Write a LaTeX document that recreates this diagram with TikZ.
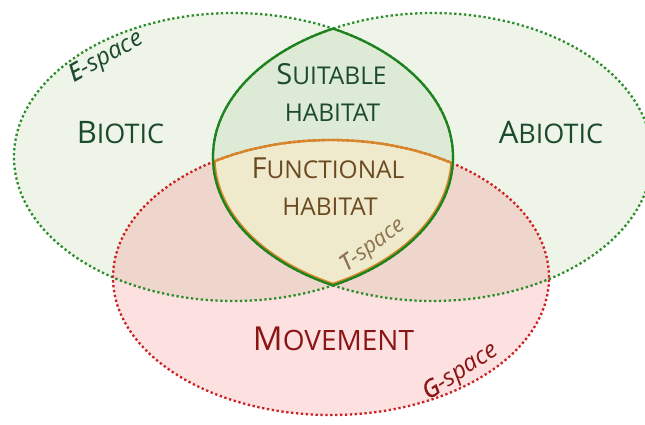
\documentclass[tikz,border=0pt]{standalone}
\usepackage{fontspec}
\setmainfont{Open Sans}
\begin{document}
\begin{tikzpicture}[x=1pt,y=-1pt]
\definecolor{gone}{HTML}{EEF5E8}
\definecolor{gtwo}{HTML}{DDEAD5}
\definecolor{rone}{HTML}{FDE0E0}
\definecolor{rg}{HTML}{EFD6CC}
\definecolor{func}{HTML}{F0EACC}
\definecolor{gdot}{HTML}{2A8C2A}
\definecolor{gline}{HTML}{1E821E}
\definecolor{rdot}{HTML}{CC2020}
\definecolor{orng}{HTML}{D8862A}
\definecolor{gtxt}{HTML}{1B4A2E}
\definecolor{btxt}{HTML}{6B4A22}
\definecolor{ttxt}{HTML}{8C7350}
\definecolor{rtxt}{HTML}{8B1414}
\tikzset{
  dotline/.style={line width=2.3pt, dash pattern=on 2.3pt off 2.6pt},
  lbl/.style={anchor=base, inner sep=0pt},
  slant/.style={anchor=base, inner sep=0pt},
}
\newcommand\scbig[2]{{\fontsize{31}{36}\selectfont #1}{\fontsize{27}{32}\selectfont #2}}
\newcommand\scmid[2]{{\fontsize{29}{34}\selectfont #1}{\fontsize{24.5}{29}\selectfont #2}}
\newcommand\scmove[2]{{\fontsize{33}{38}\selectfont #1}{\fontsize{28}{33}\selectfont #2}}
\newcommand\semib[1]{{\addfontfeature{FakeBold=1.3}#1}}
\def\ellL{(233.5,157) ellipse [x radius=219.5pt, y radius=144pt]}
\def\ellR{(432.5,157) ellipse [x radius=219.5pt, y radius=144pt]}
\def\ellM{(331,277.5) ellipse [x radius=218pt, y radius=137.5pt]}
\useasboundingbox (0,0) rectangle (645,425);
\fill[white] (0,0) rectangle (645,425);
% fills
\fill[gone] \ellL;
\fill[gone] \ellR;
\begin{scope}
  \clip \ellL;
  \fill[gtwo] \ellR;
\end{scope}
\fill[rone] \ellM;
\begin{scope}
  \clip \ellM;
  \fill[rg] \ellL;
  \fill[rg] \ellR;
  \clip \ellL;
  \fill[func] \ellR;
\end{scope}
% dotted outlines
\draw[dotline, gdot] \ellL;
\draw[dotline, gdot] \ellR;
\draw[dotline, rdot] \ellM;
% functional outline
\begin{scope}
  \clip \ellL;
  \clip \ellR;
  \draw[orng, line width=2.4pt] \ellM;
  \clip \ellM;
  \draw[orng, line width=5.2pt] \ellL;
  \draw[orng, line width=5.2pt] \ellR;
\end{scope}
% lens outline
\begin{scope}
  \clip \ellL;
  \draw[gline, line width=2.3pt] \ellR;
\end{scope}
\begin{scope}
  \clip \ellR;
  \draw[gline, line width=2.3pt] \ellL;
\end{scope}
% labels
\node[lbl, text=gtxt] (biotic) at (120.5,143.5) {\scbig{B}{IOTIC}};
\node[lbl, text=gtxt] (abiotic) at (551,143.5) {\scbig{A}{BIOTIC}};
\node[lbl, text=gtxt] (suit) at (331.5,85) {\scmid{S}{UITABLE}};
\node[lbl, text=gtxt, font=\fontsize{24.5}{29}\selectfont] (suith) at (332.5,121.5) {HABITAT};
\node[lbl, text=btxt] (func) at (328,178) {\scmid{F}{UNCTIONAL}};
\node[lbl, text=btxt, font=\fontsize{24.5}{29}\selectfont] (funch) at (330,215) {HABITAT};
\node[lbl, text=rtxt] (move) at (333.5,350) {\scmove{M}{OVEMENT}};
\node[slant, text=gtxt, rotate=29, font=\fontsize{24}{28}\selectfont\itshape] (espace) at (109,62.5) {\semib{E}-space};
\node[slant, text=ttxt, rotate=36, font=\fontsize{22}{26}\selectfont\itshape] (tspace) at (376,250) {\semib{T}-space};
\node[slant, text=rtxt, rotate=33, font=\fontsize{24}{28}\selectfont\itshape] (gspace) at (464,377) {\semib{G}-space};
\end{tikzpicture}
\end{document}
